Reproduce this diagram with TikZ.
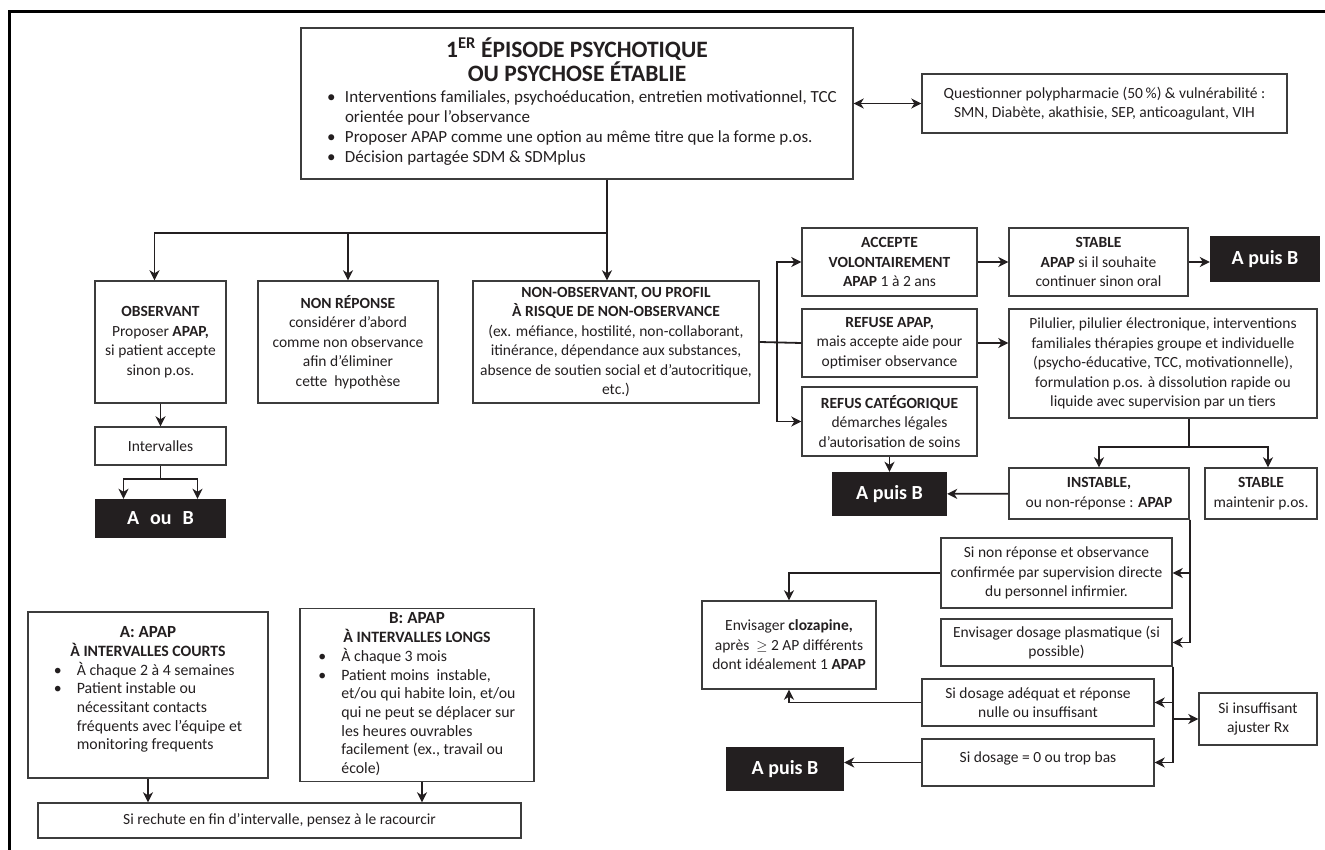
\documentclass[tikz,border=0pt]{standalone}
\usepackage{fontspec}
\setmainfont{Carlito}
\usetikzlibrary{arrows.meta}

\definecolor{ink}{HTML}{231F20}
\definecolor{edge}{HTML}{3C3C3C}
\newcommand{\bigtitle}{\fontsize{23.5}{24}\selectfont\bfseries}
\newcommand{\boxtitle}{\fontsize{17}{20}\selectfont\bfseries}

\begin{document}
\begin{tikzpicture}[x=1pt, y=-1pt,
  box/.style={draw=edge, line width=1.4pt, align=center, inner sep=2pt, text=ink, font=\fontsize{15.5}{19.5}\selectfont},
  blackbox/.style={fill=ink, text=white, inner sep=2pt, font=\fontsize{20}{22}\selectfont\bfseries},
  arr/.style={draw=ink, line width=1.8pt, -{Stealth[length=10pt, width=10pt, inset=3pt]}},
  darr/.style={draw=ink, line width=1.8pt, {Stealth[length=10pt, width=10pt, inset=3pt]}-{Stealth[length=10pt, width=10pt, inset=3pt]}},
  link/.style={draw=ink, line width=1.8pt}]
\useasboundingbox (0,0) rectangle (1325,850);
\draw[line width=3pt] (9,850) -- (9,12) -- (1325,12);

\node (main) at (577, 103.5) [box, minimum width=552, minimum height=151, font=\fontsize{17}{20}\selectfont] {%
\begin{tabular}{@{\hspace{18pt}}p{9pt}@{\hspace{9pt}}p{500pt}@{}}
\multicolumn{2}{c}{\bigtitle 1\textsuperscript{ER} ÉPISODE PSYCHOTIQUE}\\[-2pt]
\multicolumn{2}{c}{\bigtitle OU PSYCHOSE ÉTABLIE}\\[1pt]
\textbullet & Interventions familiales, psychoéducation, entretien motivationnel, TCC\\
 & orientée pour l’observance\\
\textbullet & Proposer APAP comme une option au même titre que la forme p.os.\\
\textbullet & Décision partagée SDM \& SDMplus
\end{tabular}};
\node (polyph) at (1104.5, 103.5) [box, minimum width=365, minimum height=59]
  {Questionner polypharmacie (50\,\%) \& vulnérabilité :\\SMN, Diabète, akathisie, SEP, anticoagulant, VIH};

\node (obs) at (160.5, 342) [box, minimum width=131, minimum height=122]
  {\textbf{OBSERVANT}\\Proposer \textbf{APAP,}\\si patient accepte\\sinon p.os.};
\node (nonrep) at (348, 342) [box, minimum width=180, minimum height=122]
  {\textbf{NON RÉPONSE}\\considérer d’abord\\comme non observance\\afin d’éliminer\\cette\ \ hypothèse};
\node (nonobs) at (616, 342) [box, minimum width=286, minimum height=122]
  {\textbf{NON-OBSERVANT, OU PROFIL}\\\textbf{À RISQUE DE NON-OBSERVANCE}\\(ex. méfiance, hostilité, non-collaborant,\\itinérance, dépendance aux substances,\\absence de soutien social et d’autocritique,\\etc.)};
\node (interv) at (160.5, 446) [box, minimum width=131, minimum height=38] {Intervalles};
\node (aoub) at (160.5, 518.5) [blackbox, minimum width=131, minimum height=39] {A\hspace{11pt}ou\hspace{11pt}B};

\node (accepte) at (889.5, 262) [box, minimum width=175, minimum height=68]
  {\textbf{ACCEPTE}\\\textbf{VOLONTAIREMENT}\\\textbf{APAP} 1 à 2 ans};
\node (stable) at (1098.5, 262) [box, minimum width=179, minimum height=68]
  {\textbf{STABLE}\\\textbf{APAP} si il souhaite\\continuer sinon oral};
\node (puisA) at (1265, 259.5) [blackbox, minimum width=110, minimum height=46] {A puis B};
\node (refuse) at (889.5, 343) [box, minimum width=175, minimum height=68]
  {\textbf{REFUSE APAP,}\\mais accepte aide pour\\optimiser observance};
\node (refcat) at (889.5, 421.5) [box, minimum width=175, minimum height=69]
  {\textbf{REFUS CATÉGORIQUE}\\démarches légales\\d’autorisation de soins};
\node (pilulier) at (1163, 363.5) [box, minimum width=308, minimum height=109]
  {Pilulier, pilulier électronique, interventions\\familiales thérapies groupe et individuelle\\(psycho-éducative, TCC, motivationnelle),\\formulation p.os. à dissolution rapide ou\\liquide avec supervision par un tiers};
\node (puisB) at (889.5, 494) [blackbox, minimum width=115, minimum height=44] {A puis B};
\node (instable) at (1099, 493.5) [box, minimum width=180, minimum height=51]
  {\textbf{INSTABLE,}\\ou non-réponse : \textbf{APAP}};
\node (maintien) at (1261, 493.5) [box, minimum width=112, minimum height=51]
  {\textbf{STABLE}\\maintenir p.os.};

\node (sinonrep) at (1056.5, 573) [box, minimum width=231, minimum height=70]
  {Si non réponse et observance\\confirmée par supervision directe\\du personnel infirmier.};
\node (dosage) at (1056.5, 642.5) [box, minimum width=231, minimum height=47]
  {Envisager dosage plasmatique (si\\possible)};
\node (adequat) at (1038, 702.5) [box, minimum width=232, minimum height=47]
  {Si dosage adéquat et réponse\\nulle ou insuffisant};
\node (zero) at (1038, 762.5) [box, minimum width=232, minimum height=47]
  {Si dosage = 0 ou trop bas\\[-9pt]\mbox{}};
\node (insuff) at (1258, 719) [box, minimum width=118, minimum height=52]
  {Si insuffisant\\ajuster Rx};
\node (cloza) at (789, 645) [box, minimum width=174, minimum height=88]
  {Envisager \textbf{clozapine,}\\après\ \ $\geq$ 2 AP différents\\dont idéalement 1 \textbf{APAP}};
\node (puisC) at (785, 769) [blackbox, minimum width=118, minimum height=44] {A puis B};

\node (courts) at (148, 695) [box, minimum width=240, minimum height=166, font=\fontsize{15.8}{18.7}\selectfont] {%
\begin{tabular}{@{}p{12pt}@{\hspace{11pt}}l@{}}
\multicolumn{2}{c}{\boxtitle A: APAP}\\
\multicolumn{2}{c}{\textbf{À INTERVALLES COURTS}}\\
\textbullet & À chaque 2 à 4 semaines\\
\textbullet & Patient instable ou\\
 & nécessitant contacts\\
 & fréquents avec l’équipe et\\
 & monitoring frequents\\[10pt]
\end{tabular}};
\node (longs) at (417, 695) [box, minimum width=234, minimum height=166, font=\fontsize{15.8}{18.7}\selectfont] {%
\begin{tabular}{@{}p{12pt}@{\hspace{11pt}}l@{}}
\multicolumn{2}{c}{\boxtitle B: APAP}\\
\multicolumn{2}{c}{\textbf{À INTERVALLES LONGS}}\\
\textbullet & À chaque 3 mois\\
\textbullet & Patient moins\ \ instable,\\
 & et/ou qui habite loin, et/ou\\
 & qui ne peut se déplacer sur\\
 & les heures ouvrables\\
 & facilement (ex., travail ou\\
 & école)
\end{tabular}};
\node (rechute) at (279.5, 820.5) [box, minimum width=483, minimum height=35]
  {Si rechute en fin d’intervalle, pensez à le racourcir};

\coordinate (fork) at (607, 233);
\coordinate (bus) at (777, 343);
\coordinate (pfork) at (1189, 447);

\draw[darr] (main.east) -- (polyph.west);
\draw[link] (main.south -| fork) -- (fork);
\draw[arr] (fork) -- (nonobs.north -| fork);
\draw[arr] (fork) -| ([xshift=-6pt]obs.north);
\draw[arr] (nonrep.north |- fork) -- (nonrep.north);
\draw[arr] (obs) -- (interv);
\draw[link] (interv.south) -- ++(0, 13) coordinate (ifork);
\draw[arr] (ifork) -| ([xshift=-37pt]aoub.north);
\draw[arr] (ifork) -| ([xshift=37pt]aoub.north);

\draw[link] (nonobs.east) -- (refuse.west);
\draw[arr] (bus) |- (accepte.west);
\draw[arr] (bus) |- (refcat.west);
\draw[arr] (accepte) -- (stable);
\draw[arr] (stable.east) -- (puisA.west |- stable.east);
\draw[arr] (refuse.east) -- (refuse.east -| pilulier.west);
\draw[link] (pilulier.south -| pfork) -- (pfork);
\draw[arr] (pfork) -| (instable.north);
\draw[arr] (pfork) -| ([xshift=7pt]maintien.north);
\draw[arr] (refcat) -- (puisB);
\draw[arr] (instable) -- (puisB);

\draw[arr] (instable.south east) |- (sinonrep.east);
\draw[arr] (instable.south east) |- (dosage.east);
\draw[arr] (dosage.south east) |- (adequat.east);
\draw[arr] (dosage.south east) |- (zero.east);
\draw[arr] (dosage.south east |- insuff.west) -- (insuff.west);
\draw[arr] (sinonrep.west) -| (cloza.north);
\draw[arr] (adequat.west) -| (cloza.south);
\draw[arr] (zero.west) -- (zero.west -| puisC.east);

\draw[arr] (courts) -- (courts.south |- rechute.north);
\draw[arr] ([xshift=5pt]longs.south) -- ([xshift=5pt]longs.south |- rechute.north);
\end{tikzpicture}
\end{document}
